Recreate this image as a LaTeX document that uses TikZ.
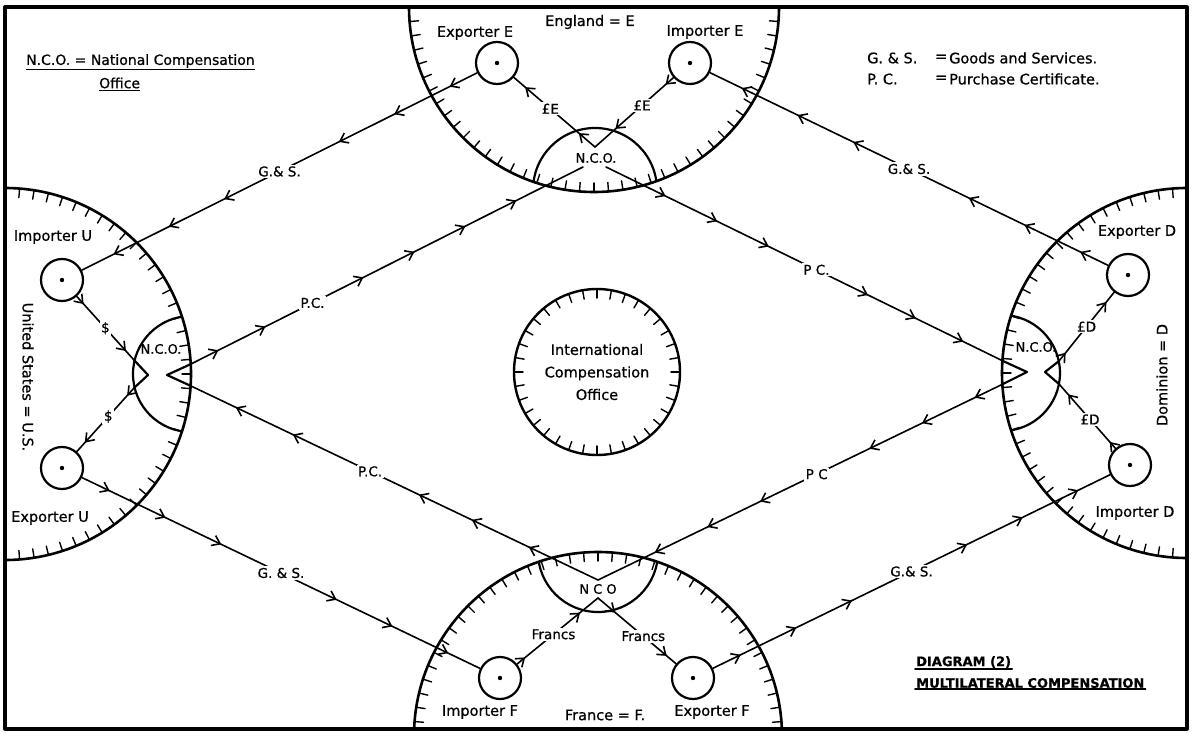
\documentclass[tikz,border=0pt]{standalone}
\usepackage{fontspec}
\setmainfont{DejaVu Sans}[FakeBold=0.7]
\usetikzlibrary{decorations.markings,arrows.meta,calc}
\begin{document}
\begin{tikzpicture}[x=1pt,y=-1pt,line cap=round,line join=round,
  >={Straight Barb[length=7.5pt,width=11pt,line width=1.6pt]},
  frm/.style={line width=3.2pt},
  bigarc/.style={line width=2.6pt},
  tck/.style={line width=1.4pt},
  ncoarc/.style={line width=2.2pt},
  party/.style={circle,draw,line width=2.2pt,minimum size=42pt,inner sep=0pt},
  flow/.style={line width=1.6pt},
  am/.style={postaction={decorate,decoration={markings,mark=at position #1 with {\arrow{>}}}}},
  lbl/.style={fill=white,inner sep=1.5pt,font=\fontsize{13.5}{15}\selectfont},
  plbl/.style={inner sep=0pt,font=\fontsize{14.5}{16}\selectfont},
  ncolbl/.style={inner sep=0pt,font=\fontsize{13}{14}\selectfont},
  leg/.style={anchor=west,inner sep=1pt,font=\fontsize{14}{16}\selectfont},
  legr/.style={anchor=west,inner sep=1pt,font=\fontsize{14.5}{16}\selectfont},
  ttl/.style={anchor=west,inner sep=1pt,font=\bfseries\fontsize{13}{15}\selectfont}
]
\useasboundingbox (0,0) rectangle (1192,738);
\fill[white] (0,0) rectangle (1192,738);

% centres of the country half-discs and their N.C.O.s
\coordinate (Ec) at (594,7);
\coordinate (Uc) at (5,374);
\coordinate (Dc) at (1187,373);
\coordinate (Fc) at (598,736);
\coordinate (En) at (595,190);
\coordinate (Un) at (191,374);
\coordinate (Dn) at (1002,373);
\coordinate (Fn) at (598,552);

\begin{scope}
  \clip (5,7) rectangle (1187,729);
  \draw[bigarc] (Ec) circle (185);
  \draw[bigarc] (Uc) circle (186);
  \draw[bigarc] (Dc) circle (185);
  \draw[bigarc] (Fc) circle (184);
  \foreach \a in {0,4.5,...,180}
    \draw[tck] ($(Ec)+(\a:185)$) -- ($(Ec)+(\a:176)$);
  \foreach \a in {-90,-85.5,...,90}
    \draw[tck] ($(Uc)+(\a:186)$) -- ($(Uc)+(\a:177)$);
  \foreach \a in {90,94.5,...,270}
    \draw[tck] ($(Dc)+(\a:185)$) -- ($(Dc)+(\a:176)$);
  \foreach \a in {180,184.5,...,360}
    \draw[tck] ($(Fc)+(\a:184)$) -- ($(Fc)+(\a:175)$);
\end{scope}
\begin{scope}\clip (Ec) circle (185); \draw[ncoarc] (En) circle (62); \end{scope}
\begin{scope}\clip (Uc) circle (186); \draw[ncoarc] (Un) circle (58); \end{scope}
\begin{scope}\clip (Dc) circle (185); \draw[ncoarc] (Dn) circle (58); \end{scope}
\begin{scope}\clip (Fc) circle (184); \draw[ncoarc] (Fn) circle (60); \end{scope}

% notches of the side N.C.O.s
\draw[ncoarc] (134,360) -- (148,375) -- (134,388);
\draw[ncoarc] (191,364) -- (167,375) -- (191,386);
\draw[ncoarc] (1003,361) -- (1027,372) -- (1003,384);
\draw[ncoarc] (1059,361) -- (1045,372) -- (1059,384);

% connection points
\coordinate (uA) at (134,360);
\coordinate (uB) at (134,388);
\coordinate (uC) at (191,364);
\coordinate (uD) at (191,386);
\coordinate (dA) at (1003,361);
\coordinate (dB) at (1003,384);
\coordinate (dC) at (1059,361);
\coordinate (dD) at (1059,384);
\coordinate (eV) at (595,147);
\coordinate (eL) at (583,167);
\coordinate (eR) at (606,167);
\coordinate (fV) at (598,580);
\coordinate (fA) at (598,598);

% frame
\draw[frm] (5,7) rectangle (1187,729);

% exporters and importers
\node[party] (expE) at (497,63) {};
\node[party] (impE) at (690,63) {};
\node[party] (impU) at (62,280) {};
\node[party] (expU) at (62,468) {};
\node[party] (expD) at (1128,275) {};
\node[party] (impD) at (1130,465) {};
\node[party] (impF) at (500,678) {};
\node[party] (expF) at (693,678) {};
\foreach \p in {expE,impE,impU,expU,expD,impD,impF,expF}
  \fill (\p.center) circle (2.2);

% international compensation office
\node[circle,draw,line width=2.4pt,minimum size=166pt,inner sep=0pt,align=center,
      font=\fontsize{14.5}{22.5}\selectfont] (ico) at (597,372)
      {International\\Compensation\\Office};
\foreach \a in {0,10,...,350}
  \draw[tck] ($(ico.center)+(\a:83)$) -- ($(ico.center)+(\a:74)$);

% goods and services
\draw[flow,am/.list={0.07,0.21,0.35,0.64,0.78,0.92}] (expE) -- node[lbl,pos=.5] (l1) {G.\& S.} (impU);
\draw[flow,am/.list={0.07,0.21,0.35,0.64,0.78,0.92}] (expD) -- node[lbl,pos=.5] (l2) {G.\& S.} (impE);
\draw[flow,am/.list={0.07,0.21,0.35,0.64,0.78,0.92}] (expU) -- node[lbl,pos=.5] (l3) {G. \& S.} (impF);
\draw[flow,am/.list={0.07,0.21,0.35,0.64,0.78,0.92}] (expF) -- node[lbl,pos=.5] (l4) {G.\& S.} (impD);

% purchase certificates
\draw[flow,am/.list={0.07,0.19,0.44,0.57,0.70,0.83}] (uC) -- node[lbl,pos=.31] (l5) {P.C.} (eL);
\draw[flow,am/.list={0.15,0.28,0.41,0.66,0.78,0.9}] (eR) -- node[lbl,pos=.53] (l6) {P C.} (dA);
\draw[flow,am/.list={0.07,0.2,0.33,0.6,0.73,0.86}] (dB) -- node[lbl,pos=.46] (l7) {P C} (fV);
\draw[flow,am/.list={0.17,0.31,0.44,0.75,0.89}] (fV) -- node[lbl,pos=.56] (l8) {P.C.} (uD);

% national currency
\draw[flow,am/.list={0.2,0.86}] (eV) -- node[lbl,pos=.55] (l9) {£E} (expE);
\draw[flow,am/.list={0.1,0.74}] (impE) -- node[lbl,pos=.4] (l10) {£E} (eV);
\draw[flow,am/.list={0.12,0.86}] (impU) -- node[lbl,pos=.5] (l11) {\$} (uA);
\draw[flow,am/.list={0.12,0.86}] (uB) -- node[lbl,pos=.45] (l12) {\$} (expU);
\draw[flow,am/.list={0.12,0.86}] (dC) -- node[lbl,pos=.5] (l13) {£D} (expD);
\draw[flow,am/.list={0.1,0.84}] (impD) -- node[lbl,pos=.45] (l14) {£D} (dD);
\draw[flow,am/.list={0.1,0.78}] (impF) -- node[lbl,pos=.45] (l15) {Francs} (fA);
\draw[flow,am/.list={0.22,0.88}] (fA) -- node[lbl,pos=.58] (l16) {Francs} (expF);

% N.C.O. labels
\node[ncolbl] (ncoE) at (596,158) {N.C.O.};
\node[ncolbl] (ncoU) at (161,349) {N.C.O.};
\node[ncolbl] (ncoD) at (1036,347) {N.C.O.};
\node[ncolbl] (ncoF) at (598,589) {N C O};

% party and country labels
\node[plbl] (tExpE) at (475,33) {Exporter E};
\node[plbl] (tEng) at (590,22) {England = E};
\node[plbl] (tImpE) at (705,32) {Importer E};
\node[plbl] (tImpU) at (53,237) {Importer U};
\node[plbl] (tExpU) at (50,518) {Exporter U};
\node[plbl] (tExpD) at (1137,232) {Exporter D};
\node[plbl] (tImpD) at (1135,513) {Importer D};
\node[plbl] (tImpF) at (480,712) {Importer F};
\node[plbl] (tFra) at (605,715) {France = F.};
\node[plbl] (tExpF) at (712,712) {Exporter F};
\node[plbl,rotate=-90] (tUS) at (28,377) {United States = U.S.};
\node[plbl,rotate=90] (tDom) at (1162,375) {Dominion = D};

% legends
\node[leg] (legA) at (25,62) {\underline{N.C.O. = National Compensation}};
\node[leg] (legB) at (98,84) {\underline{Office}};
\node[legr] (legC) at (866,58) {G. \& S.};
\node[legr] (legD) at (934,58) {=};
\node[legr] (legE) at (948,58) {Goods and Services.};
\node[legr] (legF) at (866,79) {P. C.};
\node[legr] (legG) at (934,79) {=};
\node[legr] (legH) at (948,79) {Purchase Certificate.};
\node[ttl] (dg1) at (915,662) {DIAGRAM (2)};
\node[ttl] (dg2) at (915,683) {MULTILATERAL COMPENSATION};
\draw[line width=1.6pt] (dg1.south west) -- (dg1.south east);
\draw[line width=1.6pt] (dg2.south west) -- (dg2.south east);
\end{tikzpicture}
\end{document}
